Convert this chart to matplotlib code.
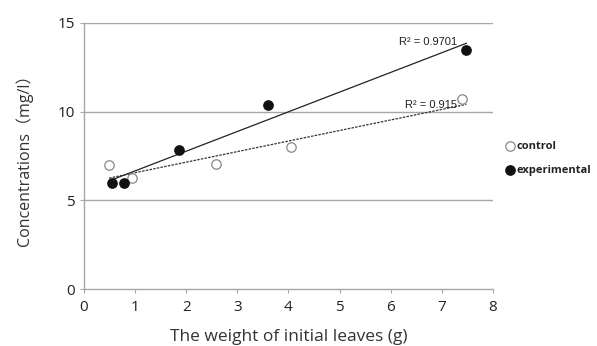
import numpy as np
import matplotlib
matplotlib.use("Agg")
import matplotlib.pyplot as plt

plt.rcParams['font.family'] = ['Open Sans', 'Noto Sans CJK JP', 'DejaVu Sans']

control_x = [0.49, 0.93, 2.58, 4.05, 7.40]
control_y = [7.00, 6.24, 7.04, 8.02, 10.70]
exp_x = [0.54, 0.79, 1.86, 3.59, 7.48]
exp_y = [5.95, 5.95, 7.83, 10.40, 13.45]
r2_control = "R² = 0.915"
r2_exp = "R² = 0.9701"
x_ticks = [0, 1, 2, 3, 4, 5, 6, 7, 8]
y_ticks = [0, 5, 10, 15]

fig = plt.figure(figsize=(5.97, 3.46), dpi=100)
ax = fig.add_axes([0.1407, 0.1647, 0.685, 0.769])

ax.set_xlim(0, 8)
ax.set_ylim(0, 15)
ax.set_xticks(x_ticks)
ax.set_yticks(y_ticks)
for y in y_ticks[1:]:
    ax.axhline(y, color='#a6a6a6', lw=1.0, zorder=0)

for s in ['top', 'right']:
    ax.spines[s].set_visible(False)
for s in ['left', 'bottom']:
    ax.spines[s].set_color('#a6a6a6')
    ax.spines[s].set_linewidth(1.0)
ax.tick_params(axis='both', colors='#a6a6a6', labelcolor='#222222', labelsize=11, length=3)
ax.tick_params(axis='x', pad=5)

# trendlines
cx = np.array(control_x); cy = np.array(control_y)
ex = np.array(exp_x); ey = np.array(exp_y)
pc = np.polyfit(cx, cy, 1)
pe = np.polyfit(ex, ey, 1)
xs_c = np.array([cx.min(), cx.max() + 0.08])
xs_e = np.array([ex.min() - 0.05, ex.max()])
ax.plot(xs_e, np.polyval(pe, xs_e), color='#222222', lw=0.9, zorder=2)
ax.plot(xs_c, np.polyval(pc, xs_c), color='#333333', lw=0.9, ls=(0, (2, 1)), zorder=2)

ax.scatter(cx, cy, s=46, facecolors='white', edgecolors='#888888', linewidths=0.9, zorder=3, label='control')
ax.scatter(ex, ey, s=46, facecolors='#111111', edgecolors='#111111', linewidths=0.9, zorder=3, label='experimental')

ax.text(6.73, 13.9, r2_exp, fontsize=8, ha='center', va='center', color='#222222', family=['Liberation Sans'])
ax.text(6.79, 10.4, r2_control, fontsize=8, ha='center', va='center', color='#222222', family=['Liberation Sans'])

ax.set_xlabel('The weight of initial leaves (g)', fontsize=12.5, color='#333333', labelpad=10)
ax.set_ylabel('Concentrations（mg/l）', fontsize=11.5, color='#333333', labelpad=18)

leg = ax.legend(loc='center left', bbox_to_anchor=(1.0, 0.49), frameon=False, fontsize=8,
                handletextpad=0.0, labelspacing=1.15, borderaxespad=0.5, handlelength=1.2)
for t in leg.get_texts():
    t.set_fontweight('bold')
    t.set_color('#222222')

fig.savefig('out.png', dpi=100)
